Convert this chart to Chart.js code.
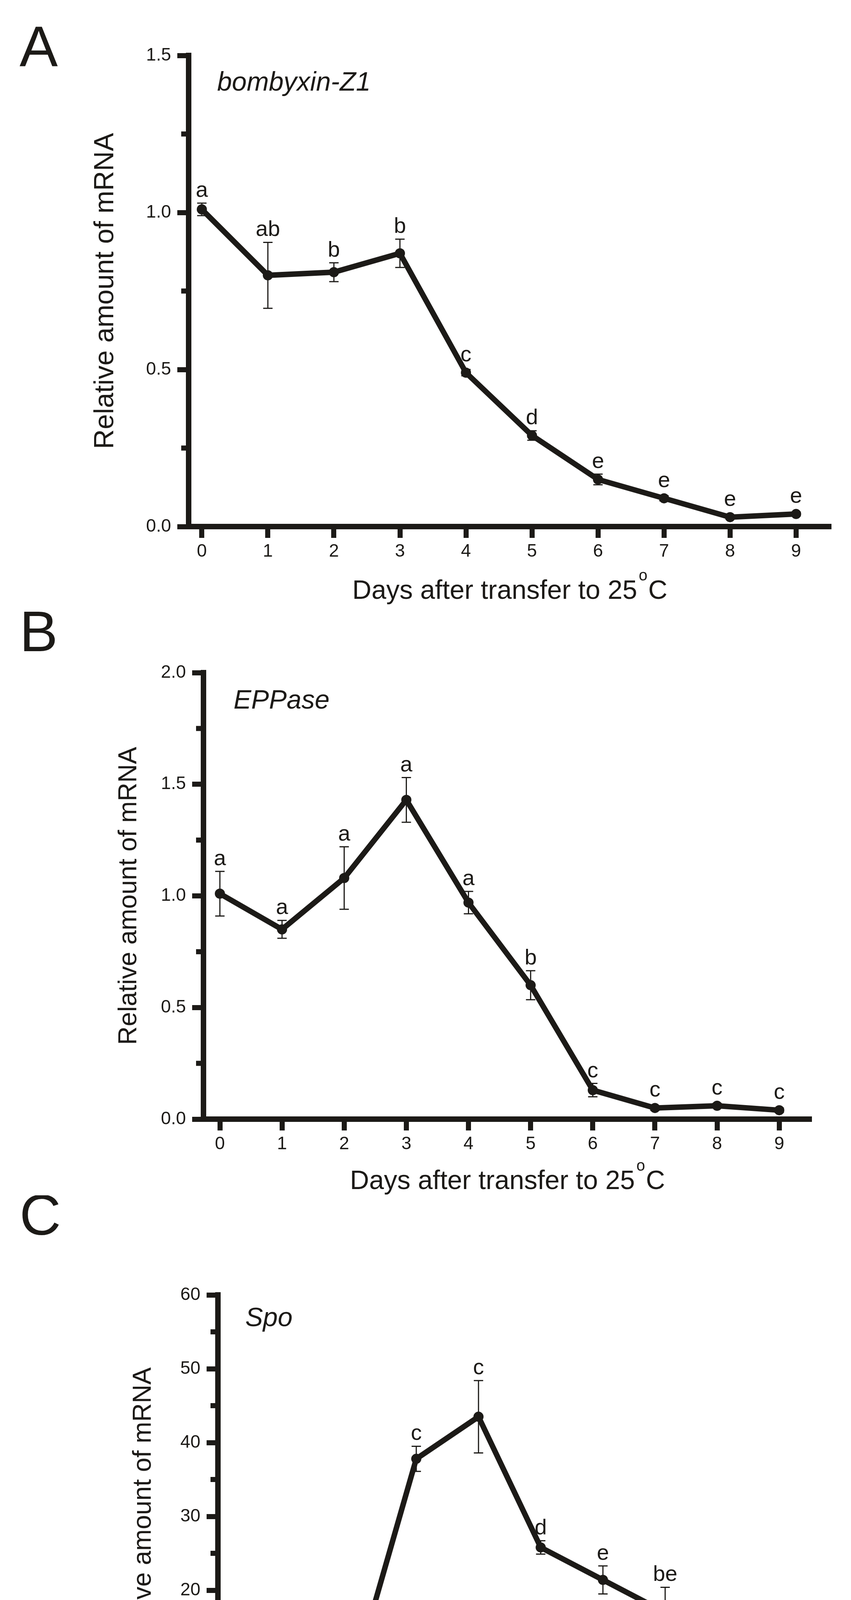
<!DOCTYPE html>
<html>
<head>
<meta charset="utf-8">
<script src="https://cdn.jsdelivr.net/npm/chart.js@4.4.1/dist/chart.umd.min.js"></script>
<style>
  html, body { margin: 0; padding: 0; background: #fff; }
  body { width: 2179px; height: 4684px; position: relative; overflow: hidden; }
  canvas { position: absolute; left: 0; }
</style>
</head>
<body>
<canvas id="chartA" width="2179" height="1560" style="top:0px"></canvas>
<canvas id="chartB" width="2179" height="1500" style="top:1560px"></canvas>
<canvas id="chartC" width="2179" height="1624" style="top:3060px"></canvas>
<script>
// days after transfer
const days = [0, 1, 2, 3, 4, 5, 6, 7, 8, 9];

// A - bombyxin-Z1
const bombyxinMean = [1.01, 0.80, 0.81, 0.87, 0.49, 0.29, 0.15, 0.09, 0.03, 0.04];
const bombyxinErr = [0.02, 0.105, 0.03, 0.045, 0.01, 0.015, 0.017, 0.008, 0.005, 0.006];
const bombyxinLetters = ['a', 'ab', 'b', 'b', 'c', 'd', 'e', 'e', 'e', 'e'];

// B - EPPase
const eppaseMean = [1.01, 0.85, 1.08, 1.43, 0.97, 0.60, 0.13, 0.05, 0.06, 0.04];
const eppaseErr = [0.10, 0.04, 0.14, 0.10, 0.05, 0.065, 0.03, 0.01, 0.01, 0.01];
const eppaseLetters = ['a', 'a', 'a', 'a', 'a', 'b', 'c', 'c', 'c', 'c'];

// C - Spo
const spoMean = [1.1, 1.1, 8.5, 37.8, 43.5, 25.8, 21.4, 17.0, 11.9, 4.8];
const spoErr = [0.3, 0.2, 0.9, 1.7, 4.9, 0.9, 1.9, 3.4, 0.7, 1.4];
const spoLetters = ['a', 'a', 'b', 'c', 'c', 'd', 'e', 'be', 'b', 'b'];

// y axis ticks
const yTicksA = [0, 0.5, 1.0, 1.5];
const yMinorA = [0.25, 0.75, 1.25];
const yTicksB = [0, 0.5, 1.0, 1.5, 2.0];
const yMinorB = [0.25, 0.75, 1.25, 1.75];
const yTicksC = [0, 10, 20, 30, 40, 50, 60];
const yMinorC = [5, 15, 25, 35, 45, 55];

const yTitle = 'Relative amount of mRNA';
const xTitle = 'Days after transfer to 25';

const INK = '#1c1a17';
const FONT = '"Liberation Sans", Arial, Helvetica, sans-serif';

const panels = {
  chartA: {
    tag: 'A', tagY: 170, gene: 'bombyxin-Z1', geneDx: 73, geneDy: 90,
    mean: bombyxinMean, err: bombyxinErr, letters: bombyxinLetters,
    yTicks: yTicksA, yMinor: yMinorA, yMax: 1.5, fmt: v => v.toFixed(1),
    xMin: -0.2, xMax: 9.53,
    pad: { top: 142, left: 283, right: 51, bottom: 92 },
    yTitleX: 271, yTitleSize: 70, xTitleDy: 185
  },
  chartB: {
    tag: 'B', tagY: 107, gene: 'EPPase', geneDx: 77, geneDy: 92,
    mean: eppaseMean, err: eppaseErr, letters: eppaseLetters,
    yTicks: yTicksB, yMinor: yMinorB, yMax: 2.0, fmt: v => v.toFixed(1),
    xMin: -0.264, xMax: 9.52,
    pad: { top: 162, left: 321, right: 101, bottom: 75 },
    yTitleX: 331, yTitleSize: 66, xTitleDy: 179
  },
  chartC: {
    tag: 'C', tagY: 101, gene: 'Spo', geneDx: 70, geneDy: 80,
    mean: spoMean, err: spoErr, letters: spoLetters,
    yTicks: yTicksC, yMinor: yMinorC, yMax: 60, fmt: v => String(v),
    xMin: -0.188, xMax: 9.51,
    pad: { top: 255, left: 358, right: 76, bottom: 115 },
    yTitleX: 368, yTitleSize: 66, xTitleDy: 174
  }
};

// error bars, minor ticks, significance letters and texts
const decor = {
  id: 'decor',
  beforeDatasetsDraw(chart) {
    const p = panels[chart.canvas.id];
    const ctx = chart.ctx, xs = chart.scales.x, ys = chart.scales.y, a = chart.chartArea;
    ctx.save();
    ctx.strokeStyle = INK;
    ctx.lineWidth = 13;
    p.yMinor.forEach(v => {
      const py = ys.getPixelForValue(v);
      ctx.beginPath();
      ctx.moveTo(a.left - 6, py);
      ctx.lineTo(a.left - 19, py);
      ctx.stroke();
    });
    ctx.lineWidth = 3;
    p.mean.forEach((m, i) => {
      const px = xs.getPixelForValue(days[i]);
      const top = ys.getPixelForValue(m + p.err[i]);
      const bot = ys.getPixelForValue(Math.max(m - p.err[i], 0));
      ctx.beginPath();
      ctx.moveTo(px, top); ctx.lineTo(px, bot);
      ctx.moveTo(px - 12, top); ctx.lineTo(px + 12, top);
      ctx.moveTo(px - 12, bot); ctx.lineTo(px + 12, bot);
      ctx.stroke();
    });
    ctx.restore();
  },
  afterDatasetsDraw(chart) {
    const p = panels[chart.canvas.id];
    const ctx = chart.ctx, xs = chart.scales.x, ys = chart.scales.y, a = chart.chartArea;
    ctx.save();
    ctx.fillStyle = INK;
    ctx.textBaseline = 'alphabetic';

    // letters above each point
    ctx.font = '56px ' + FONT;
    ctx.textAlign = 'center';
    p.letters.forEach((t, i) => {
      const px = xs.getPixelForValue(days[i]);
      const top = Math.min(ys.getPixelForValue(p.mean[i] + p.err[i]), ys.getPixelForValue(p.mean[i]) - 13);
      ctx.fillText(t, px, top - 16);
    });

    // gene name
    ctx.font = 'italic 68px ' + FONT;
    ctx.textAlign = 'left';
    ctx.fillText(p.gene, a.left + p.geneDx, a.top + p.geneDy);

    // panel tag
    ctx.font = '147px ' + FONT;
    ctx.fillText(p.tag, 50, p.tagY);

    // y title
    ctx.save();
    ctx.translate(p.yTitleX, (a.top + a.bottom) / 2);
    ctx.rotate(-Math.PI / 2);
    ctx.font = p.yTitleSize + 'px ' + FONT;
    ctx.textAlign = 'center';
    ctx.textBaseline = 'middle';
    ctx.fillText(yTitle, 0, 0);
    ctx.restore();

    // x title with superscript o
    ctx.font = '68px ' + FONT;
    const w1 = ctx.measureText(xTitle).width;
    const w3 = ctx.measureText('C').width;
    ctx.font = '40px ' + FONT;
    const w2 = ctx.measureText('o').width;
    const total = w1 + 4 + w2 + 2 + w3;
    const base = a.bottom + p.xTitleDy;
    let x0 = (a.left + a.right) / 2 - total / 2;
    ctx.textAlign = 'left';
    ctx.font = '68px ' + FONT;
    ctx.fillText(xTitle, x0, base);
    ctx.font = '40px ' + FONT;
    ctx.fillText('o', x0 + w1 + 4, base - 47);
    ctx.font = '68px ' + FONT;
    ctx.fillText('C', x0 + w1 + 4 + w2 + 2, base);
    ctx.restore();
  }
};

Chart.defaults.font.family = FONT;
Chart.defaults.color = INK;

function makeChart(id) {
  const p = panels[id];
  return new Chart(document.getElementById(id), {
    type: 'line',
    data: {
      datasets: [{
        data: days.map((d, i) => ({ x: d, y: p.mean[i] })),
        borderColor: INK,
        backgroundColor: INK,
        borderWidth: 14,
        pointRadius: 13,
        pointHoverRadius: 13,
        pointBorderWidth: 0,
        tension: 0
      }]
    },
    options: {
      responsive: false,
      animation: false,
      devicePixelRatio: 1,
      events: [],
      layout: { padding: p.pad },
      plugins: { legend: { display: false }, tooltip: { enabled: false } },
      scales: {
        x: {
          type: 'linear',
          min: p.xMin,
          max: p.xMax,
          afterBuildTicks: s => { s.ticks = days.map(v => ({ value: v })); },
          afterFit: s => { s.height = 120; s.paddingLeft = 0; s.paddingRight = 0; },
          ticks: { font: { size: 46 }, color: INK, padding: 8, maxRotation: 0, autoSkip: false,
                   callback: v => String(v) },
          grid: { drawOnChartArea: false, drawTicks: true, tickLength: 29, tickWidth: 13, tickColor: INK },
          border: { display: true, width: 14, color: INK }
        },
        y: {
          type: 'linear',
          min: 0,
          max: p.yMax,
          afterBuildTicks: s => { s.ticks = p.yTicks.map(v => ({ value: v })); },
          afterFit: s => { s.width = 200; s.paddingTop = 0; s.paddingBottom = 0; },
          ticks: { font: { size: 46 }, color: INK, padding: 16, autoSkip: false,
                   callback: v => p.fmt(v) },
          grid: { drawOnChartArea: false, drawTicks: true, tickLength: 29, tickWidth: 13, tickColor: INK },
          border: { display: true, width: 14, color: INK }
        }
      }
    },
    plugins: [decor]
  });
}

makeChart('chartA');
makeChart('chartB');
makeChart('chartC');
</script>
</body>
</html>
